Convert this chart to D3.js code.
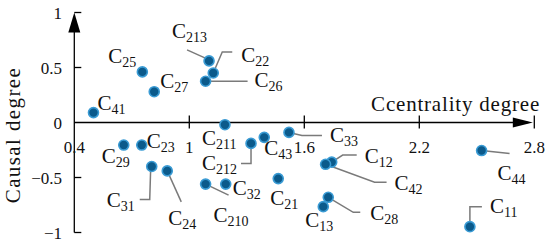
<!DOCTYPE html>
<html>
<head>
<meta charset="utf-8">
<script src="https://cdn.jsdelivr.net/npm/d3@7"></script>
<style>
  body { margin: 0; background: #fff; }
  svg text { font-family: "Liberation Serif", "Times New Roman", serif; fill: #111; }
</style>
</head>
<body>
<script>
'use strict';

// factor names, centrality degree (x), causal degree (y)
var names = ['41', '25', '27', '213', '22', '26', '211', '29', '23', '31', '24', '210',
    '32', '212', '43', '33', '21', '12', '42', '28', '13', '44', '11'];
var centrality = [0.50, 0.755, 0.817, 1.103, 1.125, 1.085, 1.186, 0.658, 0.752, 0.804, 0.885, 1.085,
    1.19, 1.322, 1.391, 1.52, 1.464, 1.743, 1.711, 1.725, 1.699, 2.525, 2.464];
var causal = [0.09, 0.46, 0.28, 0.56, 0.45, 0.375, -0.02, -0.205, -0.205, -0.40, -0.44, -0.56,
    -0.56, -0.19, -0.135, -0.09, -0.51, -0.36, -0.38, -0.68, -0.765, -0.255, -0.947];

var xTicks = [0.4, 1, 1.6, 2.2, 2.8];
var yTicks = [-1, -0.5, 0, 0.5, 1];

// label placement (pixel offsets from the point) and leader lines
var labelPlace = {
    '41': {dx: 4, dy: -3},
    '25': {dx: -34, dy: -9},
    '27': {dx: 6, dy: -4},
    '213': {dx: -37, dy: -23, lead: [[-2, -2], [-22, -11]]},
    '22': {dx: 28, dy: -11, lead: [[0, 0], [9, -21], [19, -21]]},
    '26': {dx: 49, dy: 6, lead: [[0, 0], [42, 0]]},
    '211': {dx: -23, dy: 20},
    '29': {dx: -22, dy: 18},
    '23': {dx: 5, dy: 3},
    '31': {dx: -45, dy: 40, lead: [[-1, 0], [-2, 33], [-12, 33]]},
    '24': {dx: 1, dy: 54, lead: [[0, 0], [14, 31]]},
    '210': {dx: 8, dy: 38, lead: [[0, 0], [23, 11]]},
    '32': {dx: 7, dy: 11},
    '212': {dx: -49, dy: 27, lead: [[0, 0], [0, 20], [-10, 20]]},
    '43': {dx: 0, dy: 18},
    '33': {dx: 41, dy: 10, lead: [[0, 0], [13, 3], [33, 3]]},
    '21': {dx: -8, dy: 26},
    '12': {dx: 33, dy: 1, lead: [[0, 0], [11, -7], [25, -7]]},
    '42': {dx: 69, dy: 26, lead: [[0, 0], [49, 18], [61, 18]]},
    '28': {dx: 42, dy: 23, lead: [[0, 0], [25, 15], [32, 15]]},
    '13': {dx: -18, dy: 20},
    '44': {dx: 16, dy: 29, lead: [[0, 0], [28, 3]]},
    '11': {dx: 20, dy: -14, lead: [[0, 0], [0, -20], [12, -20]]}
};

var width = 550;
var height = 243;

var x = d3.scaleLinear().domain([0.4, 2.8]).range([74.3, 534.3]);
var y = d3.scaleLinear().domain([-1, 1]).range([232.5, 12.5]);

var svg = d3.select('body').append('svg')
    .attr('width', width)
    .attr('height', height);

// y axis
svg.append('line')
    .attr('x1', x(0.4)).attr('x2', x(0.4))
    .attr('y1', y(-1)).attr('y2', y(1) + 4)
    .attr('stroke', '#000').attr('stroke-width', 1.3);
svg.append('path')
    .attr('d', 'M' + x(0.4) + ',' + y(1) + 'l-6,20l12,0z')
    .attr('fill', '#000');
yTicks.forEach(function (t) {
    if (t === 0) return;
    svg.append('line')
        .attr('x1', x(0.4)).attr('x2', x(0.4) + 7)
        .attr('y1', y(t)).attr('y2', y(t))
        .attr('stroke', '#000').attr('stroke-width', 1.3);
});
svg.selectAll('.ylab')
    .data(yTicks)
    .enter().append('text')
    .attr('class', 'ylab')
    .attr('x', 62)
    .attr('y', function (d) { return y(d) + 6; })
    .attr('text-anchor', 'end')
    .style('font-size', '17px')
    .text(function (d) { return d3.format('')(d).replace('-', '\u2212'); });

// x axis
svg.append('line')
    .attr('x1', x(0.4)).attr('x2', x(2.8) - 6)
    .attr('y1', y(0)).attr('y2', y(0))
    .attr('stroke', '#000').attr('stroke-width', 1.3);
svg.append('path')
    .attr('d', 'M' + (x(2.8) - 1.5) + ',' + y(0) + 'l-20,-5l0,10z')
    .attr('fill', '#000');
xTicks.forEach(function (t) {
    if (t === 0.4) return;
    svg.append('line')
        .attr('x1', x(t)).attr('x2', x(t))
        .attr('y1', y(0) - 7).attr('y2', y(0) + 6)
        .attr('stroke', '#000').attr('stroke-width', 1.3);
});
svg.selectAll('.xlab')
    .data(xTicks)
    .enter().append('text')
    .attr('class', 'xlab')
    .attr('x', function (d) { return x(d); })
    .attr('y', y(0) + 30.5)
    .attr('text-anchor', 'middle')
    .style('font-size', '17px')
    .text(function (d) { return d; });

// axis titles
svg.append('text')
    .attr('x', 540)
    .attr('y', 111)
    .attr('text-anchor', 'end')
    .style('font-size', '21px')
    .style('letter-spacing', '0.8px')
    .text('Ccentrality degree');
svg.append('text')
    .attr('transform', 'translate(20,135) rotate(-90)')
    .attr('text-anchor', 'middle')
    .style('font-size', '21px')
    .style('letter-spacing', '1.4px')
    .text('Causal degree');

var points = names.map(function (n, i) {
    return {name: n, cx: x(centrality[i]), cy: y(causal[i]), place: labelPlace[n]};
});

// leader lines
var line = d3.line();
svg.append('g')
    .selectAll('path')
    .data(points.filter(function (d) { return d.place.lead; }))
    .enter().append('path')
    .attr('d', function (d) {
        return line(d.place.lead.map(function (p) { return [d.cx + p[0], d.cy + p[1]]; }));
    })
    .attr('fill', 'none')
    .attr('stroke', '#7a7a7a')
    .attr('stroke-width', 1.5);

// points
svg.append('g')
    .selectAll('circle')
    .data(points)
    .enter().append('circle')
    .attr('cx', function (d) { return d.cx; })
    .attr('cy', function (d) { return d.cy; })
    .attr('r', 5)
    .attr('fill', '#0b5a8b')
    .attr('stroke', '#3a9bd4')
    .attr('stroke-width', 1.6);

// labels
var label = svg.append('g')
    .selectAll('text')
    .data(points)
    .enter().append('text')
    .attr('x', function (d) { return d.cx + d.place.dx; })
    .attr('y', function (d) { return d.cy + d.place.dy; })
    .style('font-size', '21px');
label.append('tspan').text('C');
label.append('tspan')
    .attr('dy', 4)
    .style('font-size', '14px')
    .text(function (d) { return d.name; });
</script>
</body>
</html>
